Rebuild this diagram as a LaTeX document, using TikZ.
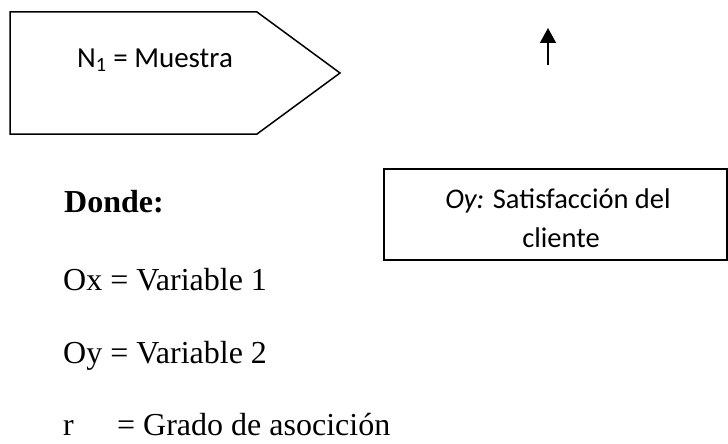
\documentclass[tikz,border=0pt]{standalone}
\usepackage{fontspec}
\setmainfont{Liberation Serif}
\newfontfamily\calfont{Carlito}
\usetikzlibrary{arrows.meta}
\tikzset{
  shapeline/.style={draw=black, line width=1.5pt, line join=miter},
  serif/.style={inner sep=0pt, anchor=base west, font=\fontsize{32}{36}\selectfont},
  sanslabel/.style={inner sep=0pt, anchor=base west, font=\calfont\fontsize{29}{33}\selectfont},
  boxlabel/.style={inner sep=0pt, anchor=base, font=\calfont\fontsize{28.5}{33}\selectfont},
  uparrow/.style={line width=1.5pt, -{Triangle[width=16pt,length=15pt]}}
}
\begin{document}
\begin{tikzpicture}[x=1pt,y=-1pt]
\useasboundingbox (0,0) rectangle (728,444);
\fill[white] (0,0) rectangle (728,444);
% pentagon
\draw[shapeline] (10,12) -- (257,12) -- (340,73) -- (257,134) -- (10,134) -- cycle;
\node[sanslabel] (n1) at (77,67) {N\textsubscript{1} = Muestra};
% arrow
\coordinate (ab) at (548,65);
\coordinate (at) at (548,28);
\draw[uparrow] (ab) -- (at);
% Oy box
\draw[shapeline] (384,169) rectangle (727,260);
\node[boxlabel] (oy1) at (558,208) {\textit{Oy:} Satisfacción del};
\node[boxlabel] (oy2) at (561,247) {cliente};
% legend
\node[serif] (donde) at (64,212) {\textbf{Donde:}};
\node[serif] (ox) at (63,290) {Ox = Variable 1};
\node[serif] (oyv) at (63,363) {Oy = Variable 2};
\node[serif] (r) at (63,435) {\makebox[54pt][l]{r}= Grado de asocición};
\end{tikzpicture}
\end{document}
